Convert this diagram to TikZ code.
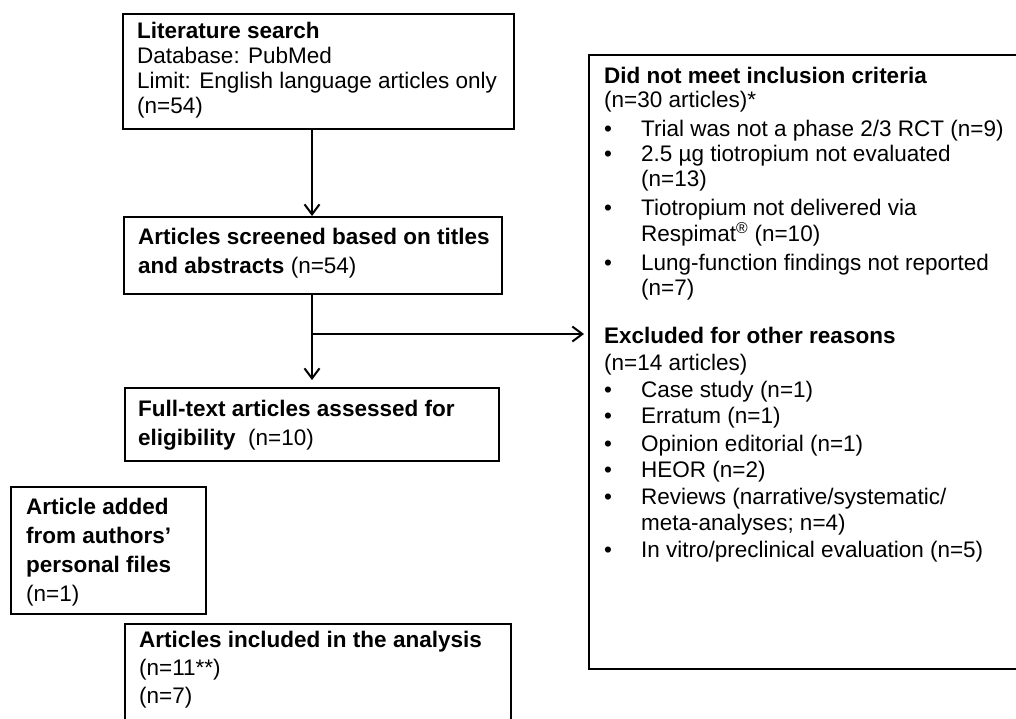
\documentclass[tikz,border=0pt]{standalone}
\usepackage{fontspec}
\setmainfont{Liberation Sans}
\usetikzlibrary{arrows.meta}
\newcommand{\bul}{\makebox[37pt][l]{•}}
\newcommand{\ind}{\hspace*{37pt}}
\begin{document}
\begin{tikzpicture}[x=1pt,y=-1pt,
  box/.style={draw, line width=2pt, anchor=north west, inner sep=0pt, rectangle},
  txt/.style={anchor=north west, inner sep=0pt, align=left},
  fnt/.style={font=\fontsize{22.5}{#1}\selectfont},
  arr/.style={line width=2pt, -{Straight Barb[length=10pt,width=15pt]}}]
\useasboundingbox[fill=white] (0,0) rectangle (1016,718);
% boxes
\node[box, minimum width=391pt, minimum height=115pt] (lit) at (122,13) {};
\node[box, minimum width=378pt, minimum height=77pt] (scr) at (123,216) {};
\node[box, minimum width=374pt, minimum height=73pt] (full) at (124,387) {};
\node[box, minimum width=195pt, minimum height=127pt] (added) at (10,486) {};
\node[box, minimum width=386pt, minimum height=130pt] (incl) at (124,623) {};
\node[box, minimum width=470pt, minimum height=614pt] (excl) at (588,54) {};
% texts
\node[txt, fnt=25] (litT) at (137,20) {\rule{0pt}{18pt}\textbf{Literature search}\\Database: PubMed\\Limit: English language articles only\\(n=54)};
\node[txt, fnt=29] (scrT) at (138,226) {\rule{0pt}{18pt}\textbf{Articles screened based on titles}\\\textbf{and abstracts} (n=54)};
\node[txt, fnt=29] (fullT) at (138,398) {\rule{0pt}{18pt}\textbf{Full-text articles assessed for}\\\textbf{eligibility}\ \ (n=10)};
\node[txt, fnt=29] (addedT) at (26,496) {\rule{0pt}{18pt}\textbf{Article added}\\\textbf{from authors'}\\\textbf{personal files}\\(n=1)};
\node[txt, fnt=28] (inclT) at (139,629) {\rule{0pt}{18pt}\textbf{Articles included in the analysis}\\(n=11**)\\(n=7)};
\node[txt, fnt=25] (exclT) at (604,65) {\rule{0pt}{18pt}\textbf{Did not meet inclusion criteria}\\[-1pt]
(n=30 articles)*\\[4pt]
\bul Trial was not a phase 2/3 RCT (n=9)\\
\bul 2.5 µg tiotropium not evaluated\\
\ind (n=13)\\[4pt]
\bul Tiotropium not delivered via\\[1pt]
\ind Respimat\textsuperscript{®} (n=10)\\[4pt]
\bul Lung-function findings not reported\\
\ind (n=7)\\[23pt]
\textbf{Excluded for other reasons}\\[2pt]
(n=14 articles)\\[2pt]
\bul Case study (n=1)\\[1pt]
\bul Erratum (n=1)\\[3pt]
\bul Opinion editorial (n=1)\\[1pt]
\bul HEOR (n=2)\\[2pt]
\bul Reviews (narrative/systematic/\\[1pt]
\ind meta-analyses; n=4)\\[2pt]
\bul In vitro/preclinical evaluation (n=5)};
% connectors
\coordinate (col) at (312,0);
\coordinate (br) at (312,334);
\draw[arr] (lit.south -| col) -- (scr.north -| col);
\draw[arr, shorten >=7pt] (scr.south -| col) -- (full.north -| col);
\draw[arr, shorten >=4pt] (br) -- (br -| excl.west);
\end{tikzpicture}
\end{document}
